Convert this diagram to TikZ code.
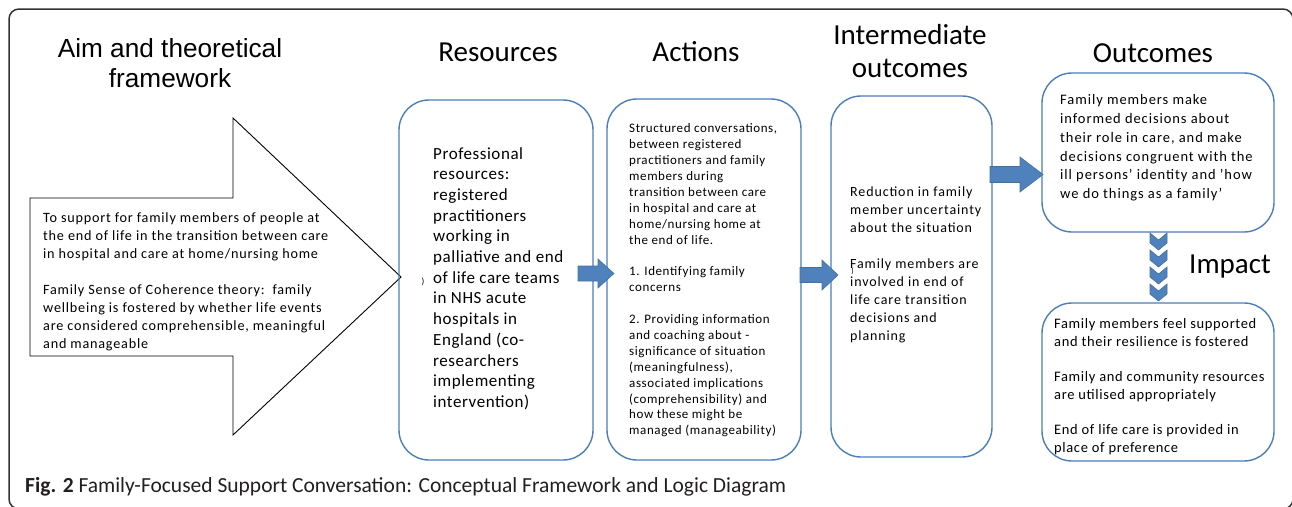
\documentclass[tikz,border=0pt]{standalone}
\usepackage{fontspec}
\setmainfont{Carlito}
\newfontfamily\arialf{Liberation Sans}
\definecolor{boxblue}{HTML}{4A7EBB}
\definecolor{arrfill}{HTML}{4F81BD}
\definecolor{arrline}{HTML}{41719C}
\definecolor{frameg}{HTML}{333333}
\definecolor{capg}{HTML}{231F20}
\newcommand{\fsz}[3]{\fontsize{#1}{#2}\selectfont\addfontfeature{LetterSpace=#3}}
\begin{document}
\begin{tikzpicture}[x=1pt,y=-1pt,
  rbox/.style={draw=boxblue, line width=1.4pt, rounded corners=30pt, inner sep=0pt},
  blockarrow/.style={fill=arrfill, draw=arrline, line width=0.6pt, line join=miter},
  txt/.style={anchor=north west, inner sep=0pt, align=left},
  ttl/.style={inner sep=0pt, align=center, font=\fontsize{29}{33}\selectfont}]
\useasboundingbox (0,0) rectangle (1292,506);
% outer frame
\begin{scope}
\clip (0,0) rectangle (1292,506);
\draw[frameg, line width=1.5pt, rounded corners=10pt] (9,9) rectangle (1293,509);
\end{scope}
% titles
\node[ttl, font=\arialf\fontsize{26.2}{30}\selectfont] (taim) at (170,63) {Aim and theoretical\\framework};
\node[ttl] (tres) at (498,52) {Resources};
\node[ttl] (tact) at (696,52) {Actions};
\node[ttl] (tint) at (910,51) {Intermediate\\outcomes};
\node[ttl] (tout) at (1153,53) {Outcomes};
\node[ttl] (timp) at (1230,267) {Impact};
% big arrow
\draw[black, line width=0.9pt, line join=miter] (30,198) -- (233,198) -- (233,118) -- (401,277) -- (233,435) -- (233,356) -- (30,356) -- cycle;
\node[txt, font=\fsz{14.2}{18}{5.5}] (aimtxt) at (43,212.5) {To support for family members of people at\\the end of life in the transition between care\\in hospital and care at home/nursing home\\[18pt]Family Sense of Coherence theory:\ \ family\\wellbeing is fostered by whether life events\\are considered comprehensible, meaningful\\and manageable};
% boxes
\draw[rbox] (399,100) rectangle (593,460);
\draw[rbox] (607,99) rectangle (801,460);
\draw[rbox] (831,96) rectangle (992,457);
\draw[rbox] (1042,73) rectangle (1274,232);
\draw[rbox] (1042,303) rectangle (1274,461);
% box texts
\node[txt, font=\fsz{17}{20.7}{3.3}] (restxt) at (433,147) {Professional\\resources:\\registered\\practitioners\\working in\\palliative and end\\of life care teams\\in NHS acute\\hospitals in\\England (co-\\researchers\\implementing\\intervention)};
\node[inner sep=0pt, font=\fontsize{9}{9}\selectfont] (par1) at (423,282) {)};
\node[txt, font=\fsz{13}{15.9}{4.6}] (acttxt) at (629,123.5) {Structured conversations,\\between registered\\practitioners and family\\members during\\transition between care\\in hospital and care at\\home/nursing home at\\the end of life.\\[15.9pt]1. Identifying family\\concerns\\[15.9pt]2. Providing information\\and coaching about -\\significance of situation\\(meaningfulness),\\associated implications\\(comprehensibility) and\\how these might be\\managed (manageability)};
\node[txt, font=\fsz{14}{18}{6.3}] (inttxt) at (850,186.5) {Reduction in family\\member uncertainty\\about the situation\\[18pt]Family members are\\involved in end of\\life care transition\\decisions and\\planning};
\node[inner sep=0pt, font=\fontsize{8}{8}\selectfont] (par2) at (852.5,271) {)};
\node[txt, font=\fsz{14.5}{18.8}{6.4}] (outtxt) at (1060,94.5) {Family members make\\informed decisions about\\their role in care, and make\\decisions congruent with the\\ill persons' identity and 'how\\we do things as a family'};
\node[txt, font=\fsz{14.5}{18}{4.4}] (imptxt) at (1054,318.5) {Family members feel supported\\and their resilience is fostered\\[17pt]Family and community resources\\are utilised appropriately\\[17pt]End of life care is provided in\\place of preference};
% block arrows
\draw[blockarrow] (578,266) -- (598,266) -- (598,259) -- (614,273.5) -- (598,288) -- (598,281) -- (578,281) -- cycle;
\draw[blockarrow] (800,267.5) -- (822,267.5) -- (822,260) -- (838,275) -- (822,290) -- (822,282.5) -- (800,282.5) -- cycle;
\draw[blockarrow] (990,166.5) -- (1020,166.5) -- (1020,157) -- (1043,174.5) -- (1020,192) -- (1020,182.5) -- (990,182.5) -- cycle;
% chevrons
\foreach \k in {0,1,2,3}{
  \draw[blockarrow] (1150,233+17*\k) -- (1158.5,240+17*\k) -- (1167,233+17*\k) -- (1167,243+17*\k) -- (1158.5,250+17*\k) -- (1150,243+17*\k) -- cycle;
}
% caption
\node[anchor=west, inner sep=0pt, text=capg, font=\fontsize{21.5}{24}\selectfont] (cap) at (25,487) {\textbf{Fig. 2} Family-Focused Support Conversation: Conceptual Framework and Logic Diagram};
\end{tikzpicture}
\end{document}
